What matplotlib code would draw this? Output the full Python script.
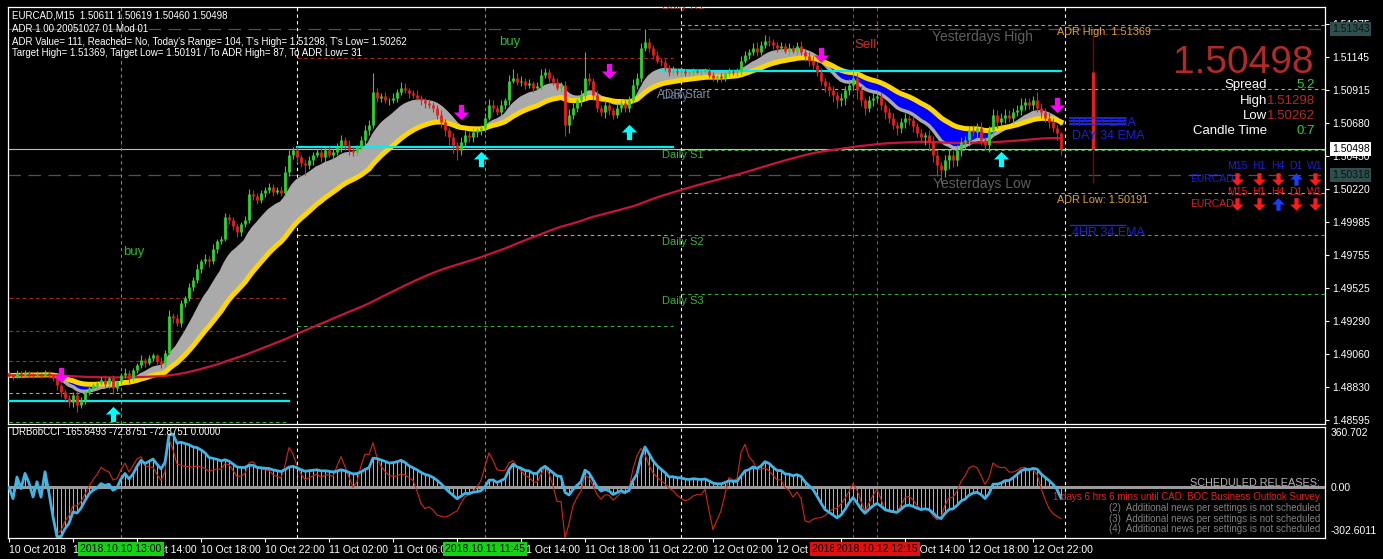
import numpy as np
import pandas as pd
import matplotlib.pyplot as plt
from matplotlib.path import Path

plt.rcParams['font.family'] = ['Liberation Sans', 'DejaVu Sans']

W, H = 1383, 559

# EURCAD M15, bar 0 = 10 Oct 2018 06:00, one bar per 15 minutes
first_open = 1.4893
close = [
    1.4891, 1.4890, 1.4893, 1.4891, 1.4893, 1.4892, 1.4891, 1.4892, 1.4891, 1.4893, 1.4891, 1.4889, 1.4884, 1.4879, 1.4875, 1.4872,
    1.4877, 1.4870, 1.4874, 1.4879, 1.4882, 1.4884, 1.4886, 1.4888, 1.4885, 1.4889, 1.4882, 1.4887, 1.4891, 1.4893, 1.4889, 1.4895,
    1.4898, 1.4902, 1.4900, 1.4903, 1.4905, 1.4901, 1.4899, 1.4907, 1.4933, 1.4931, 1.4928, 1.4942, 1.4945, 1.4953, 1.4958, 1.4966,
    1.4971, 1.4973, 1.4971, 1.4980, 1.4985, 1.4987, 1.5002, 1.5000, 1.4996, 1.4992, 1.4997, 1.5000, 1.5018, 1.5017, 1.5014, 1.5019,
    1.5021, 1.5023, 1.5020, 1.5021, 1.5019, 1.5034, 1.5046, 1.5049, 1.5044, 1.5040, 1.5039, 1.5042, 1.5046, 1.5048, 1.5044, 1.5049,
    1.5046, 1.5048, 1.5051, 1.5056, 1.5053, 1.5049, 1.5048, 1.5051, 1.5056, 1.5063, 1.5067, 1.5090, 1.5086, 1.5087, 1.5084, 1.5084,
    1.5086, 1.5090, 1.5093, 1.5091, 1.5089, 1.5088, 1.5086, 1.5084, 1.5082, 1.5081, 1.5079, 1.5074, 1.5069, 1.5063, 1.5058, 1.5053,
    1.5049, 1.5055, 1.5060, 1.5058, 1.5062, 1.5063, 1.5065, 1.5072, 1.5081, 1.5079, 1.5076, 1.5081, 1.5084, 1.5098, 1.5100, 1.5097,
    1.5098, 1.5095, 1.5096, 1.5093, 1.5094, 1.5102, 1.5104, 1.5100, 1.5097, 1.5093, 1.5095, 1.5067, 1.5074, 1.5079, 1.5084, 1.5088,
    1.5100, 1.5098, 1.5088, 1.5079, 1.5076, 1.5081, 1.5077, 1.5074, 1.5079, 1.5082, 1.5079, 1.5084, 1.5095, 1.5100, 1.5121, 1.5125,
    1.5121, 1.5116, 1.5112, 1.5111, 1.5107, 1.5104, 1.5105, 1.5104, 1.5105, 1.5103, 1.5104, 1.5105, 1.5104, 1.5105, 1.5105, 1.5102,
    1.5100, 1.5101, 1.5100, 1.5103, 1.5105, 1.5104, 1.5105, 1.5112, 1.5116, 1.5118, 1.5121, 1.5118, 1.5123, 1.5126, 1.5125, 1.5123,
    1.5121, 1.5122, 1.5119, 1.5121, 1.5119, 1.5122, 1.5118, 1.5115, 1.5112, 1.5109, 1.5104, 1.5098, 1.5094, 1.5091, 1.5088, 1.5084,
    1.5086, 1.5091, 1.5095, 1.5100, 1.5091, 1.5084, 1.5079, 1.5084, 1.5086, 1.5087, 1.5081, 1.5076, 1.5072, 1.5067, 1.5065, 1.5069,
    1.5072, 1.5070, 1.5066, 1.5061, 1.5058, 1.5060, 1.5055, 1.5046, 1.5039, 1.5035, 1.5042, 1.5046, 1.5042, 1.5049, 1.5055, 1.5056,
    1.5063, 1.5062, 1.5065, 1.5056, 1.5053, 1.5063, 1.5074, 1.5069, 1.5072, 1.5074, 1.5072, 1.5076, 1.5077, 1.5081, 1.5083, 1.5081,
    1.5084, 1.5079, 1.5076, 1.5072, 1.5069, 1.5065, 1.50611, 1.50498,
]
# wick lengths in pips above / below the candle body
wick_up = [
    2, 1, 2, 1, 2, 1, 1, 2, 1, 2, 1, 1, 2, 1, 2, 2,
    2, 3, 2, 1, 2, 2, 1, 2, 3, 1, 2, 1, 2, 3, 2, 1,
    2, 3, 1, 2, 2, 1, 3, 2, 4, 2, 3, 2, 2, 3, 2, 3,
    2, 3, 2, 3, 2, 2, 3, 2, 2, 1, 2, 3, 4, 3, 2, 2,
    2, 3, 2, 2, 3, 4, 3, 2, 3, 2, 2, 3, 2, 2, 3, 2,
    3, 2, 3, 4, 2, 3, 2, 2, 3, 4, 3, 13, 3, 2, 3, 2,
    3, 2, 4, 3, 2, 2, 3, 2, 2, 3, 2, 2, 3, 2, 2, 3,
    2, 3, 3, 2, 3, 2, 2, 3, 4, 3, 2, 3, 2, 4, 6, 3,
    3, 2, 3, 2, 3, 4, 3, 2, 2, 3, 2, 3, 4, 3, 2, 3,
    18, 3, 2, 3, 2, 3, 2, 2, 3, 2, 2, 3, 4, 3, 3, 9,
    3, 2, 3, 2, 2, 2, 3, 2, 2, 2, 1, 2, 2, 1, 2, 2,
    2, 1, 2, 2, 2, 1, 2, 3, 3, 2, 3, 4, 3, 4, 3, 2,
    2, 3, 2, 3, 2, 3, 4, 2, 3, 3, 2, 3, 2, 3, 3, 2,
    3, 3, 4, 5, 3, 3, 2, 3, 3, 4, 3, 2, 3, 3, 2, 3,
    3, 2, 3, 2, 3, 2, 3, 4, 3, 2, 4, 3, 3, 4, 3, 3,
    3, 4, 3, 4, 2, 3, 4, 3, 3, 4, 3, 3, 4, 5, 3, 3,
    3, 6, 3, 3, 4, 3, 2, 1,
]
wick_dn = [
    1, 2, 1, 2, 1, 2, 2, 1, 2, 1, 2, 2, 3, 3, 2, 3,
    3, 5, 2, 3, 2, 2, 3, 2, 2, 3, 4, 2, 2, 2, 3, 2,
    2, 2, 3, 2, 2, 2, 3, 2, 2, 3, 2, 3, 3, 2, 3, 2,
    3, 2, 4, 2, 3, 2, 2, 3, 3, 4, 3, 2, 2, 3, 3, 2,
    3, 2, 3, 2, 2, 2, 3, 3, 4, 3, 7, 3, 3, 2, 3, 3,
    2, 3, 2, 3, 4, 3, 3, 2, 2, 3, 3, 2, 3, 3, 2, 3,
    2, 3, 2, 2, 3, 2, 2, 3, 3, 2, 3, 3, 4, 4, 5, 6,
    7, 3, 4, 3, 3, 4, 3, 3, 2, 3, 2, 2, 3, 3, 2, 2,
    3, 3, 2, 3, 2, 3, 2, 3, 2, 2, 3, 8, 6, 3, 3, 4,
    3, 3, 4, 3, 3, 4, 3, 3, 2, 3, 3, 3, 2, 3, 3, 2,
    3, 3, 2, 3, 2, 3, 2, 2, 3, 2, 2, 2, 1, 2, 2, 2,
    2, 3, 3, 2, 2, 2, 3, 3, 2, 3, 2, 3, 2, 2, 3, 3,
    3, 2, 2, 3, 2, 3, 2, 3, 4, 3, 3, 3, 4, 4, 5, 5,
    4, 5, 3, 4, 6, 4, 5, 3, 4, 3, 4, 5, 4, 3, 5, 4,
    4, 3, 4, 3, 4, 5, 6, 5, 8, 9, 5, 6, 5, 4, 4, 5,
    4, 3, 5, 3, 4, 5, 3, 4, 3, 4, 3, 4, 3, 3, 4, 3,
    4, 3, 4, 3, 4, 3, 5, 4,
]

tick_bars = [0, 16, 32, 48, 64, 80, 96, 112, 128, 144, 160, 176, 192, 208, 224, 240, 256]
tick_labels = ['10 Oct 2018', '10 Oct 10:00', '10 Oct 14:00', '10 Oct 18:00', '10 Oct 22:00',
               '11 Oct 02:00', '11 Oct 06:00', '11 Oct 10:00', '11 Oct 14:00', '11 Oct 18:00',
               '11 Oct 22:00', '12 Oct 02:00', '12 Oct 06:00', '12 Oct 10:00', '12 Oct 14:00',
               '12 Oct 18:00', '12 Oct 22:00']
price_ticks = [1.51375, 1.51145, 1.50915, 1.50680, 1.50450, 1.50220, 1.49985,
               1.49755, 1.49525, 1.49290, 1.49060, 1.48830, 1.48595]

# signals
sell_bars = [13, 113, 150, 203, 262]
sell_prices = [1.4891, 1.5076, 1.5105, 1.5116, 1.5081]
buy_bars = [26, 118, 155, 248]
buy_prices = [1.4864, 1.5043, 1.5062, 1.5043]

# horizontal levels: (price, first bar, last bar)
red_levels = [(1.49453, 0, 70), (1.49221, 0, 70), (1.49011, 0, 70), (1.51138, 72, 166)]
tan_levels = [(1.48786, 0, 70), (1.49895, 72, 166), (1.51369, 168, 329),
              (1.50920, 168, 329), (1.50191, 168, 329)]
green_levels = [(1.48583, 0, 70), (1.49256, 72, 166), (1.50495, 168, 329),
                (1.49895, 168, 329), (1.49481, 168, 329)]
cyan_levels = [(1.48730, 0, 70), (1.50510, 72, 166), (1.51047, 163, 263)]
yesterday_levels = [1.51343, 1.50318]
bid = 1.50498
ema_h4_levels = [1.50717, 1.50696, 1.50675]
ema_4hr_level = 1.49966

# vertical markers
day_bars = [72, 168, 264]
event_bars = [28, 119, 211, 217]
event_labels = ['2018.10.10 13:00', '2018.10.11 11:45', '2018.10.12 10:45', '2018.10.12 12:15']
event_colors = ['#14d214', '#14d214', '#e01010', '#e01010']

# today's candle (ADR bar)
day_bar = 271
day_open, day_high, day_low, day_close = 1.5104, 1.51298, 1.50262, 1.50498

# multi time frame trend
mtf_frames = ['M15', 'H1', 'H4', 'D1', 'W1']
mtf_row1 = [-1, -1, -1, 1, -1]
mtf_row2 = [-1, -1, 1, -1, -1]

# ---------------------------------------------------------------
c = np.array(close)
n = len(c)
bars = np.arange(n)
o = np.r_[first_open, c[:-1]]
high = np.maximum(o, c) + np.array(wick_up) * 1e-4
low = np.minimum(o, c) - np.array(wick_dn) * 1e-4

s = pd.Series(c)
fast = s.ewm(span=12, adjust=False).mean().to_numpy()
slow = s.ewm(span=30, adjust=False).mean().to_numpy()
trend = s.ewm(span=200, adjust=False).mean().to_numpy()

tp = pd.Series((high + low + c) / 3)


def cci(period):
    sma = tp.rolling(period, min_periods=1).mean()
    mad = tp.rolling(period, min_periods=1).apply(lambda v: np.abs(v - v.mean()).mean(), raw=True)
    out = ((tp - sma) / (0.015 * mad)).to_numpy()
    return np.nan_to_num(out, nan=0.0, posinf=0.0, neginf=0.0)


cci_slow = np.clip(cci(40), -302.6, 360.7)
cci_fast = np.clip(cci(12), -302.6, 360.7)

ARROW_DN = Path([(-0.17, 0.5), (0.17, 0.5), (0.17, 0.0), (0.5, 0.0), (0.0, -0.5),
                 (-0.5, 0.0), (-0.17, 0.0), (-0.17, 0.5)],
                [Path.MOVETO] + [Path.LINETO] * 6 + [Path.CLOSEPOLY])
ARROW_UP = Path(ARROW_DN.vertices * [1, -1], ARROW_DN.codes)


def box(l, t, r, b):
    return [l / W, 1 - b / H, (r - l) / W, (b - t) / H]


fig = plt.figure(figsize=(W / 100, H / 100), dpi=100, facecolor='black')
ax = fig.add_axes(box(8, 7, 1325, 424))
ax2 = fig.add_axes(box(8, 427, 1325, 538))
for a in (ax, ax2):
    a.set_facecolor('black')
    a.set_xlim(-0.25, 329)
    for sp in a.spines.values():
        sp.set_color('white')
        sp.set_linewidth(0.9)
ax.set_ylim(1.485687, 1.51496)
ax2.set_ylim(-302.6011, 360.702)

# levels
DASH = (0, (3, 3))
for p, b0, b1 in red_levels:
    ax.plot([b0, b1], [p, p], color='#b42828', lw=0.8, ls=DASH, zorder=1)
for p, b0, b1 in tan_levels:
    ax.plot([b0, b1], [p, p], color='#d9a050', lw=0.8, ls=DASH, zorder=1)
for p, b0, b1 in green_levels:
    ax.plot([b0, b1], [p, p], color='#3cb43c', lw=0.8, ls=DASH, zorder=1)
for p in yesterday_levels:
    ax.axhline(p, color='#505050', lw=0.9, ls=(0, (10, 6)), zorder=1)
ax.axhline(bid, color='#bebebe', lw=0.8, zorder=1)
for p, b0, b1 in cyan_levels:
    ax.plot([b0, b1], [p, p], color='#00f0f0', lw=1.6, zorder=4)

for a in (ax, ax2):
    for b in day_bars:
        a.axvline(b, color='white', lw=0.8, ls=DASH, zorder=1)
    for b, col in zip(event_bars, event_colors):
        a.axvline(b, color='#3cb43c' if col == '#14d214' else '#c83232', lw=0.8, ls=DASH, zorder=1)

# moving average ribbon
ax.fill_between(bars, fast, slow, where=fast >= slow, interpolate=True, color='#aaaaaa', lw=0, zorder=2)
ax.fill_between(bars, fast, slow, where=fast < slow, interpolate=True, color='#0000ff', lw=0, zorder=2)
ax.plot(bars, fast, color='#aaaaaa', lw=2.5, zorder=2)
ax.plot(bars, slow, color='#ffd700', lw=3.6, zorder=3)
ax.plot(bars, trend, color='#c8143c', lw=1.6, zorder=3)

# candles
col = np.where(c >= o, '#2fd22f', '#e61e1e')
ax.vlines(bars, low, high, colors=col, lw=0.8, zorder=5)
ax.vlines(bars, np.minimum(o, c), np.maximum(np.maximum(o, c), np.minimum(o, c) + 2e-5),
          colors=col, lw=2.0, zorder=6)

ax.plot(sell_bars, sell_prices, ls='none', marker=ARROW_DN, ms=11, color='#ff00ff', mec='none', zorder=7)
ax.plot(buy_bars, buy_prices, ls='none', marker=ARROW_UP, ms=11, color='#00ffff', mec='none', zorder=7)

# today's candle
ax.vlines(day_bar, day_low, day_high, color='#8b0000', lw=1.0, zorder=5)
ax.vlines(day_bar, day_close, day_open, color='#e61e1e', lw=2.4, zorder=6)

for p in ema_h4_levels:
    ax.plot([265.25, 279], [p, p], color='#1e28dc', lw=1.4, zorder=4)
ax.plot([265.25, 279], [ema_4hr_level] * 2, color='#1e28dc', lw=1.0, zorder=4)

ax.text(163.25, 1.51503, 'Daily R1', color='#c83232', fontsize=8, va='center', clip_on=True)

ax.set_xticks([])
ax.yaxis.tick_right()
ax.set_yticks(price_ticks)
ax.set_yticklabels([f'{p:.5f}' for p in price_ticks])
ax.tick_params(axis='y', colors='white', labelsize=7.5, length=3, width=0.8, pad=2.5)

# CCI panel
ax2.vlines(bars, 0, cci_slow, colors='#d2d2d2', lw=0.6, zorder=2)
ax2.axhline(0, color='#9a9a9a', lw=2.2, zorder=3)
ax2.plot(bars, cci_fast, color='#d22814', lw=0.8, zorder=4)
ax2.plot(bars, cci_slow, color='#41b4e6', lw=2.0, zorder=5)
ax2.set_yticks([])
ax2.set_xticks(tick_bars)
ax2.set_xticklabels(tick_labels, ha='left')
ax2.tick_params(axis='x', colors='white', labelsize=7.5, length=3, width=0.8, pad=2)

# overlay in pixel coordinates
ov = fig.add_axes([0, 0, 1, 1])
ov.set_xlim(0, W)
ov.set_ylim(H, 0)
ov.axis('off')
ov.set_zorder(10)


def t(x, y, txt, color='white', fs=7.5, ha='left', va='center', **kw):
    ov.text(x, y, txt, color=color, fontsize=fs, ha=ha, va=va, **kw)


t(12, 16, 'EURCAD,M15  1.50611 1.50619 1.50460 1.50498', fs=7)
t(12, 29, 'ADR 1.00 20051027 01 Mod 01', fs=7)
t(12, 42, "ADR Value= 111, Reached= No, Today's Range= 104, T's High= 1.51298, T's Low= 1.50262", fs=7)
t(12, 53, 'Target High= 1.51369, Target Low= 1.50191 / To ADR High= 87, To ADR Low= 31', fs=7)

t(499, 42, 'buy', color='#2db92d', fs=9.5)
t(123, 252, 'buy', color='#2db92d', fs=9.5)
t(854, 45, 'Sell', color='#c83232', fs=9.5)
t(662, 155, 'Daily S1', color='#3cb43c', fs=8)
t(662, 242, 'Daily S2', color='#3cb43c', fs=8)
t(662, 301, 'Daily S3', color='#3cb43c', fs=8)
t(657, 95, 'ADR Start', color='#7c8ca0', fs=8.5)
t(662, 96, 'Daily', color='#5c6c80', fs=8.5)
t(932, 37, 'Yesterdays High', color='#5f5f5f', fs=10)
t(933, 184, 'Yesterdays Low', color='#5f5f5f', fs=10)
t(1057, 32, 'ADR High: 1.51369', color='#e1a032', fs=7.8)
t(1057, 200, 'ADR Low: 1.50191', color='#e1a032', fs=7.8)
t(1072, 123, 'H4 34 EMA', color='#1e1ed7', fs=9)
t(1072, 136, 'DAY 34 EMA', color='#1e1ed7', fs=9)
t(1072, 233, '4HR 34 EMA', color='#1e1ed7', fs=9)

t(1314, 73, '1.50498', color='#b02a2a', fs=28, ha='right', va='baseline')
for y, lab, val, vc in [(88, 'Spread', '5.2', '#32cd32'), (104, 'High', '1.51298', '#b02a2a'),
                        (119, 'Low', '1.50262', '#b02a2a'), (134, 'Candle Time', '0:7', '#32cd32')]:
    t(1267, y, lab, fs=9.5, ha='right', va='baseline')
    t(1315, y, val, color=vc, fs=9.5, ha='right', va='baseline')

mtf_x = [1237, 1259, 1278, 1296, 1315]
for row, (yh, ya, hc) in zip([mtf_row1, mtf_row2], [(166, 179, '#1e1ecd'), (192, 204, '#dc1e1e')]):
    t(1212, ya, 'EURCAD', color=hc, fs=7.5, ha='center')
    for x, fr, d in zip(mtf_x, mtf_frames, row):
        t(x, yh, fr, color=hc, fs=7.5, ha='center')
        ov.plot(x, ya, marker=ARROW_DN if d < 0 else ARROW_UP, ms=9,
                color='#ff1a1a' if d < 0 else '#1a3cff', mec='none')

# price axis flags
t(1332, 29, '1.51343', color='#101010', fs=7.5,
  bbox=dict(boxstyle='square,pad=0.15', fc='#2f4f4f', ec='none'))
t(1332, 175, '1.50318', color='#101010', fs=7.5,
  bbox=dict(boxstyle='square,pad=0.15', fc='#2f4f4f', ec='none'))
t(1332, 149, '1.50498', color='black', fs=7.5,
  bbox=dict(boxstyle='square,pad=0.15', fc='white', ec='none'))

t(1331, 433, '360.702', fs=7.5)
t(1331, 488, '0.00', fs=7.5)
t(1331, 531, '-302.6011', fs=7.5)
t(12, 432, 'DRBobCCI -165.8493 -72.8751 -72.8751 0.0000', fs=7)

t(1320, 483, 'SCHEDULED RELEASES:', color='#b4b4b4', fs=7.8, ha='right')
t(1320, 497, '1 days 6 hrs 6 mins until CAD: BOC Business Outlook Survey', color='#e02020', fs=7, ha='right')
for i, y in zip([2, 3, 4], [508, 519, 529]):
    t(1320, y, f'({i})  Additional news per settings is not scheduled', color='#808080', fs=7, ha='right')

for b, lab, col in zip(event_bars, event_labels, event_colors):
    t(9 + 4 * b, 549, lab, color='black', fs=7.5, ha='center',
      bbox=dict(boxstyle='square,pad=0.2', fc=col, ec='none'))

fig.savefig('out.png', dpi=100, facecolor='black')
